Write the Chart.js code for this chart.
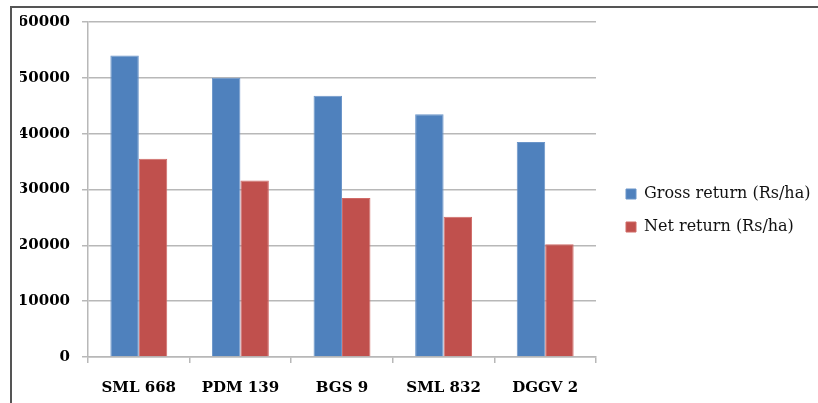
<!DOCTYPE html>
<html>
<head>
<meta charset="utf-8">
<script src="https://cdn.jsdelivr.net/npm/chart.js@4.4.1/dist/chart.umd.min.js"></script>
<style>
  html, body { margin: 0; padding: 0; background: #fff; overflow: hidden; }
  #wrap { position: relative; width: 818px; height: 403px; }
  #frame { position: absolute; left: 10px; top: 6px; width: 900px; height: 500px;
           border-top: 2px solid #555; border-left: 2px solid #555; }
</style>
</head>
<body>
<div id="wrap">
  <div id="frame"></div>
  <canvas id="returns"></canvas>
</div>
<script>
// varieties and returns (Rs/ha)
const varieties = ['SML 668', 'PDM 139', 'BGS 9', 'SML 832', 'DGGV 2'];
const grossReturn = [54000, 50000, 46800, 43500, 38500];
const netReturn = [35500, 31600, 28500, 25100, 20200];
const yTicks = [0, 10000, 20000, 30000, 40000, 50000, 60000];

var ctx = document.getElementById('returns').getContext('2d');

const tickFont = { family: 'DejaVu Serif', size: 15, weight: 'bold' };

const returnsChart = new Chart(ctx, {
    type: 'bar',
    data: {
        labels: varieties,
        datasets: [{
            label: 'Gross return (Rs/ha)',
            data: grossReturn,
            backgroundColor: '#4F81BD',
            borderColor: '#6b95c9',
            borderWidth: 1,
        }, {
            label: 'Net return (Rs/ha)',
            data: netReturn,
            backgroundColor: '#C0504D',
            borderColor: '#d06a67',
            borderWidth: 1,
        }]
    },
    options: {
        responsive: true,
        maintainAspectRatio: false,
        animation: false,
        barPercentage: 1,
        categoryPercentage: 0.56,
        layout: {
            padding: { top: 22, left: 20, right: 0, bottom: 4 }
        },
        plugins: {
            tooltip: { enabled: false },
            legend: {
                position: 'right',
                maxWidth: 209,
                labels: {
                    font: { family: 'DejaVu Serif', size: 16 },
                    color: '#111',
                    boxWidth: 10,
                    boxHeight: 10,
                    padding: 17,
                }
            }
        },
        scales: {
            y: {
                min: 0,
                max: 60000,
                afterBuildTicks: function (scale) {
                    scale.ticks = yTicks.map(v => ({ value: v }));
                },
                afterFit: function (scale) { scale.width = 68; },
                ticks: {
                    font: tickFont,
                    color: '#000',
                    padding: 12,
                    callback: v => String(v),
                },
                grid: {
                    color: '#b8b8b8',
                    lineWidth: 1.5,
                    tickLength: 6,
                },
                border: { color: '#b8b8b8', width: 1.5 }
            },
            // empty spacer between the plot and the legend
            gap: {
                position: 'right',
                afterFit: function (scale) { scale.width = 13; },
                ticks: { display: false },
                grid: { display: false },
                border: { display: false }
            },
            x: {
                afterFit: function (scale) { scale.height = 42; },
                ticks: {
                    font: tickFont,
                    color: '#000',
                    padding: 16,
                },
                grid: {
                    offset: true,
                    drawOnChartArea: false,
                    color: '#b8b8b8',
                    lineWidth: 1.5,
                    tickLength: 6,
                },
                border: { color: '#b8b8b8', width: 1.5 }
            }
        }
    }
});
</script>
</body>
</html>
